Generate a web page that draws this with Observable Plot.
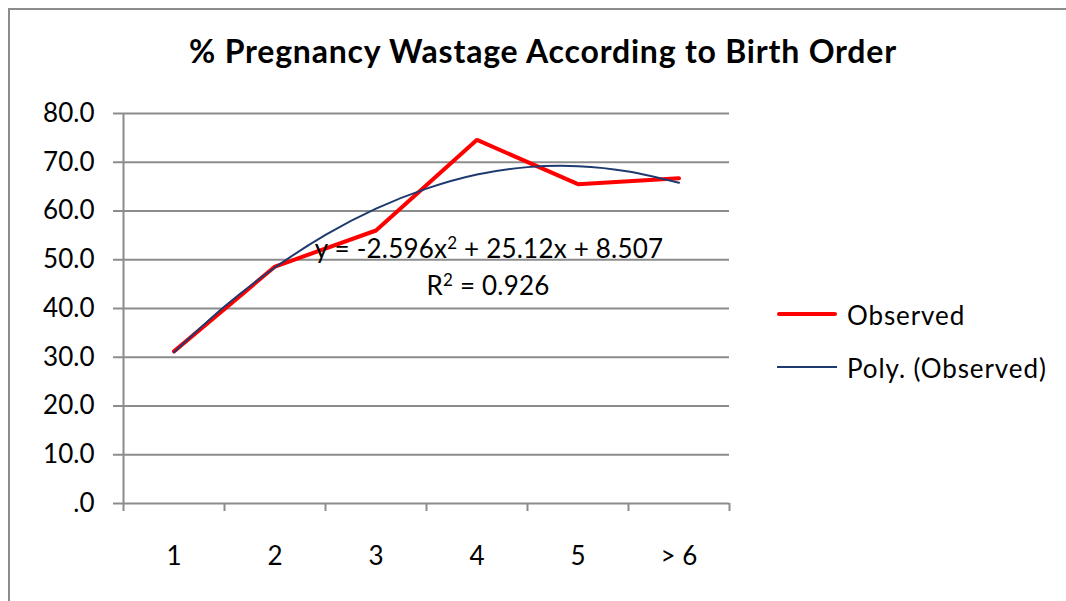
<!DOCTYPE html>
<html>
<head>
<meta charset="utf-8">
<script src="https://cdn.jsdelivr.net/npm/d3@7"></script>
<script src="https://cdn.jsdelivr.net/npm/@observablehq/plot@0.6"></script>
<style>
  html, body { margin: 0; padding: 0; background: #fff; }
  #wrap { position: relative; width: 1066px; height: 601px; overflow: hidden; font-family: Lato, "Open Sans", sans-serif; color: #000; }
  #border { position: absolute; left: 8px; top: 8px; width: 1200px; height: 800px; border: 2px solid #8c8c8c; box-sizing: border-box; }
  #chart { position: absolute; left: 0; top: 0; }
  .txt { position: absolute; white-space: nowrap; line-height: 1; }
  #title { font-weight: bold; font-size: 32px; letter-spacing: 0.8px; left: 543px; top: 35px; transform: translateX(-50%); }
  #eq { font-size: 26px; letter-spacing: 0.2px; left: 489px; top: 235px; transform: translateX(-50%); }
  #r2 { font-size: 26px; letter-spacing: 0.2px; left: 488px; top: 272px; transform: translateX(-50%); }
  #eq sup, #r2 sup { font-size: 17px; vertical-align: 0.55em; line-height: 0; }
  .leg { font-size: 26px; letter-spacing: 0.9px; left: 847px; }
  .legline { position: absolute; left: 777px; width: 60px; }
</style>
</head>
<body>
<div id="wrap">
  <div id="border"></div>
  <div id="chart"></div>
  <div id="title" class="txt">% Pregnancy Wastage According to Birth Order</div>
  <div id="eq" class="txt">y = -2.596x<sup>2</sup> + 25.12x + 8.507</div>
  <div id="r2" class="txt">R<sup>2</sup> = 0.926</div>
  <div class="legline" style="top:312px;height:4px;background:#ff0000;border-radius:2px;"></div>
  <div class="txt leg" style="top:302px;">Observed</div>
  <div class="legline" style="top:366px;height:2px;background:#1f3a70;"></div>
  <div class="txt leg" style="top:355px;">Poly. (Observed)</div>
</div>
<script>
// Categories (birth order) and their labels
const catX = [1, 2, 3, 4, 5, 6];
const catLabels = ["1", "2", "3", "4", "5", "> 6"];
// Observed % pregnancy wastage
const observedValues = [31.2, 48.6, 56.0, 74.6, 65.5, 66.7];
// Polynomial trendline
const polyX = [1, 1.5, 2, 2.5, 3, 3.5, 4, 4.5, 5, 5.5, 6];
const polyValues = [31.0, 40.4, 48.4, 55.1, 60.5, 64.6, 67.5, 69.0, 69.2, 68.1, 65.8];
// Axis ticks
const yTicks = [0, 10, 20, 30, 40, 50, 60, 70, 80];
const xBoundaries = [0.5, 1.5, 2.5, 3.5, 4.5, 5.5, 6.5];

const observed = catX.map((x, i) => ({x, y: observedValues[i]}));
const poly = polyX.map((x, i) => ({x, y: polyValues[i]}));

const gray = "#8c8c8c";

const chart = Plot.plot({
  width: 1066,
  height: 601,
  marginLeft: 123,
  marginRight: 337,
  marginTop: 113,
  marginBottom: 98,
  style: {fontFamily: "Lato, 'Open Sans', sans-serif", fontSize: "26px", color: "#000", background: "transparent", overflow: "visible"},
  x: {domain: [0.5, 6.5]},
  y: {domain: [0, 80]},
  marks: [
    Plot.gridY(yTicks, {stroke: gray, strokeOpacity: 1, strokeWidth: 2}),
    Plot.ruleX([0.5], {y1: 0, y2: 80, stroke: gray, strokeWidth: 2}),
    Plot.axisY(yTicks, {
      tickSize: 10, tickPadding: 19, stroke: gray, strokeWidth: 2, fill: "#000",
      fontSize: 26, label: null,
      tickFormat: d => d === 0 ? ".0" : d.toFixed(1)
    }),
    Plot.axisX(xBoundaries, {tickSize: 8, stroke: gray, strokeWidth: 2, tickFormat: () => "", label: null}),
    Plot.axisX(catX, {
      tickSize: 0, tickPadding: 43, fill: "#000", fontSize: 26, label: null,
      tickFormat: d => catLabels[catX.indexOf(d)]
    }),
    Plot.line(observed, {x: "x", y: "y", stroke: "#ff0000", strokeWidth: 4, strokeLinejoin: "miter"}),
    Plot.line(poly, {x: "x", y: "y", stroke: "#1f3a70", strokeWidth: 2, curve: "natural"})
  ]
});
document.getElementById("chart").appendChild(chart);
</script>
</body>
</html>
